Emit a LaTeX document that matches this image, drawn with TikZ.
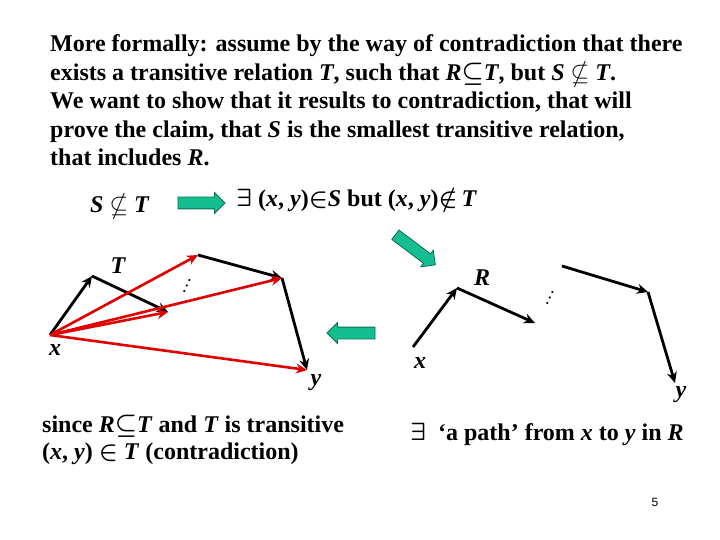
\documentclass[tikz,border=0pt]{standalone}
\usepackage{amssymb}
\usepackage{fontspec}
\setmainfont{Liberation Serif}
\newfontfamily\pgnumfont{Liberation Sans}
\usetikzlibrary{arrows.meta,shapes.arrows}
\definecolor{garrowfill}{RGB}{20,190,145}
\definecolor{garrowline}{RGB}{10,110,85}
\definecolor{redline}{RGB}{225,0,0}
\tikzset{
  txt/.style={anchor=base west,inner sep=0pt,font=\bfseries\boldmath\fontsize{24}{28}\selectfont},
  lbl/.style={inner sep=0pt,font=\bfseries\itshape\fontsize{24}{28}\selectfont},
  blk/.style={line width=2.8pt,draw=black,-{Stealth[length=11pt,width=10pt]}},
  red/.style={line width=2.6pt,draw=redline,-{Stealth[length=11pt,width=10pt]}},
  garrow/.style={shape=single arrow,fill=garrowfill,draw=garrowline,line width=0.8pt,
    inner xsep=0pt,inner ysep=5.5pt,text height=0pt,text depth=0pt,text width=0pt,
    single arrow head extend=4.5pt,single arrow head indent=0pt},
  dotsn/.style={inner sep=0pt,font=\fontsize{18}{20}\selectfont}
}
\begin{document}
\begin{tikzpicture}[x=1pt,y=-1pt]
\useasboundingbox (0,0) rectangle (720,540);
% top paragraph
\node[txt] (t1) at (50,52) {More formally: assume by the way of contradiction that there};
\node[txt] (t2) at (50,80.5) {exists a transitive relation \textit{T}, such that \textit{R}$\subseteq$\textit{T}, but \textit{S} $\nsubseteq$ \textit{T}.};
\node[txt] (t3) at (50,109) {We want to show that it results to contradiction, that will};
\node[txt] (t4) at (50,137.5) {prove the claim, that \textit{S} is the smallest transitive relation,};
\node[txt] (t5) at (50,166) {that includes \textit{R}.};
% middle statements
\node[txt] (snt) at (90,213) {\textit{S} $\nsubseteq$ \textit{T}};
\node[txt] (ex) at (236,207) {$\exists$ (\textit{x}, \textit{y})$\in$\textit{S} but (\textit{x}, \textit{y})$\notin$\,\textit{T}};
% green arrows
\node[garrow,minimum height=47pt] (g1) at (198.5,203) {};
\node[garrow,minimum height=50pt,rotate=-37] (g2) at (413,248) {};
\node[garrow,minimum height=48pt,rotate=180] (g3) at (354,333) {};
% left graph
\coordinate (lx) at (50,335);
\coordinate (l1) at (92,276);
\coordinate (l2) at (168,312);
\coordinate (l3) at (198,255);
\coordinate (l4) at (282,278);
\coordinate (ly) at (307,370);
\draw[blk] (lx) -- (l1);
\draw[blk] (l1) -- (l2);
\draw[blk] (l3) -- (l4);
\draw[blk] (l4) -- (ly);
\draw[red] (lx) -- (l3);
\draw[red] (lx) -- (l4);
\draw[red] (lx) -- (l2);
\draw[red] (lx) -- (ly);
\node[lbl] (lT) at (118,266) {T};
\node[lbl] (lxl) at (55,350) {x};
\node[lbl] (lyl) at (316,383) {y};
\node[dotsn,rotate=65] (ld) at (187,286) {\dots};
% right graph
\coordinate (rx) at (413,347);
\coordinate (r1) at (457,288);
\coordinate (r2) at (535,323);
\coordinate (r3) at (562,266);
\coordinate (r4) at (648,292);
\coordinate (ry) at (675,383);
\draw[blk] (rx) -- (r1);
\draw[blk] (r1) -- (r2);
\draw[blk] (r3) -- (r4);
\draw[blk] (r4) -- (ry);
\node[lbl] (rR) at (482,278) {R};
\node[lbl] (rxl) at (420,363) {x};
\node[lbl] (ryl) at (681,395) {y};
\node[dotsn,rotate=65] (rd) at (550,298) {\dots};
% bottom texts
\node[txt] (b1) at (42,432) {since \textit{R}$\subseteq$\textit{T} and \textit{T} is transitive};
\node[txt] (b2) at (42,459) {(\textit{x}, \textit{y}) $\in$ \textit{T} (contradiction)};
\node[txt] (b3) at (410,440) {$\exists$ \ `a path' from \textit{x} to \textit{y} in \textit{R}};
\node[inner sep=0pt,font=\pgnumfont\fontsize{12}{14}\selectfont] (pg) at (655,502) {5};
\end{tikzpicture}
\end{document}
